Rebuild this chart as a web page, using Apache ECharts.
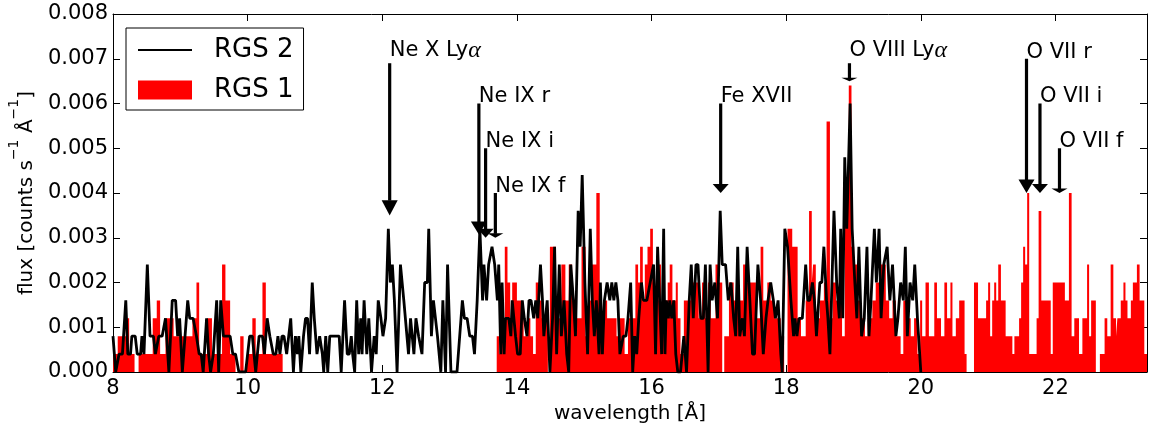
<!DOCTYPE html>
<html>
<head>
<meta charset="utf-8">
<title>RGS spectrum</title>
<script src="https://cdn.jsdelivr.net/npm/echarts@6/dist/echarts.min.js"></script>
<style>
  html, body { margin: 0; padding: 0; background: #fff; }
  #chart { width: 1151px; height: 426px; }
</style>
</head>
<body>
<div id="chart"></div>
<script>
// one count in a bin = 0.0004 counts s^-1 Å^-1
const FLUX_PER_COUNT = 0.0004;

// RGS 2 (black line): [wavelength Å, counts]
const rgs2A = [
  [8.00,2],[8.04,0],[8.09,1],[8.14,1],[8.19,4],[8.22,1],[8.26,1],[8.28,2],[8.33,2],[8.36,1],
  [8.41,1],[8.43,2],[8.46,1],[8.51,6],[8.55,2],[8.60,2],[8.63,1],[8.68,2],[8.73,2],[8.78,3],
  [8.83,0],[8.88,4],[8.93,4],[8.96,2],[8.99,3],[9.03,0],[9.11,4],[9.14,3],[9.19,3],[9.24,2],
  [9.28,1],[9.31,1],[9.34,0],[9.39,3],[9.42,1],[9.45,0],[9.49,1],[9.54,4],[9.57,0],[9.60,4],
  [9.64,2],[9.69,2],[9.74,2],[9.78,1],[9.82,1],[9.87,0],[9.92,0],[9.97,0],[10.03,2],[10.07,2],
  [10.12,0],[10.17,2],[10.22,2],[10.25,1],[10.29,3],[10.33,2],[10.38,1],[10.42,1],[10.45,2],[10.48,1]
];
const rgs2B = [
  [10.51,2],[10.54,2],[10.58,1],[10.61,2],[10.64,3],[10.68,0],[10.71,2],[10.74,1],[10.76,2],[10.79,0],
  [10.83,2],[10.86,3],[10.89,3],[10.92,1],[10.96,5],[10.99,3],[11.03,1],[11.07,2],[11.11,1],[11.13,0],
  [11.16,2],[11.19,0],[11.22,2],[11.28,2],[11.36,2],[11.39,0],[11.44,4],[11.48,1],[11.51,1],[11.54,2],
  [11.56,1],[11.59,0],[11.62,4],[11.65,1],[11.68,3],[11.70,1],[11.73,4],[11.77,1],[11.80,3],[11.84,0],
  [11.88,2],[11.91,1],[11.94,4],[11.98,3],[12.01,2],[12.05,3],[12.09,8],[12.12,5],[12.15,6],[12.18,4],
  [12.22,0],[12.27,6],[12.32,4],[12.39,1],[12.42,3],[12.47,1],[12.50,3],[12.54,2],[12.59,1],[12.63,5],
  [12.67,5],[12.69,8],[12.73,2],[12.76,4],[12.82,2],[12.87,0],[12.90,4],[12.94,0],[12.97,6],[13.02,0]
];
const rgs2C = [
  [13.05,0],[13.11,0],[13.19,4],[13.22,3],[13.26,3],[13.30,2],[13.34,2],[13.37,1],[13.41,4],[13.45,8],
  [13.49,4],[13.51,6],[13.55,4],[13.58,6],[13.63,7],[13.67,6],[13.71,4],[13.73,6],[13.76,1],[13.78,5],
  [13.81,1],[13.83,3],[13.88,3],[13.91,2],[13.93,4],[13.98,2],[14.01,1],[14.05,1],[14.08,4],[14.11,3],
  [14.15,2],[14.18,4],[14.21,4],[14.25,3],[14.28,4],[14.31,3],[14.35,6],[14.38,4],[14.40,2],[14.45,4],
  [14.49,0],[14.53,3],[14.56,7],[14.59,1],[14.63,6],[14.66,2],[14.70,4],[14.74,1],[14.77,0],[14.80,6],
  [14.84,4],[14.87,2],[14.91,9],[14.94,7],[14.97,11],[15.01,5],[15.05,1],[15.09,8],[15.12,4],[15.15,2],
  [15.18,4],[15.22,1],[15.24,5],[15.27,1],[15.30,4],[15.34,5],[15.38,4],[15.41,5],[15.44,4],[15.47,5],
  [15.50,4],[15.53,1]
];
const rgs2D = [
  [15.58,2],[15.62,2],[15.65,3],[15.69,5],[15.72,0],[15.75,2],[15.78,1],[15.81,3],[15.85,5],[15.88,4],
  [15.93,4],[15.98,5],[16.03,6],[16.06,1],[16.09,7],[16.13,3],[16.15,1],[16.18,8],[16.20,1],[16.22,4],
  [16.25,3],[16.27,4],[16.30,3],[16.33,4],[16.36,1],[16.39,0],[16.43,0],[16.48,2],[16.52,0],[16.56,4],
  [16.59,6],[16.62,3],[16.66,6],[16.69,6],[16.73,3],[16.77,3],[16.80,6],[16.84,0],[16.87,6],[16.90,4],
  [16.94,5],[16.98,3],[17.02,9],[17.05,6],[17.10,6],[17.14,4],[17.18,5],[17.22,3],[17.25,2],[17.28,7],
  [17.31,2],[17.35,3],[17.38,2],[17.42,7],[17.46,4],[17.50,1],[17.53,1],[17.58,6],[17.62,4],[17.66,1],
  [17.70,3],[17.73,4],[17.77,5],[17.81,4],[17.84,3],[17.88,4],[17.92,1],[17.94,0],[17.98,8],[18.02,7]
];
const rgs2E = [
  [18.07,4],[18.11,2],[18.13,3],[18.16,2],[18.19,3],[18.24,3],[18.29,6],[18.32,4],[18.35,4],[18.39,5],
  [18.42,4],[18.45,2],[18.50,5],[18.53,5],[18.56,7],[18.60,4],[18.62,3],[18.65,1],[18.71,9],[18.75,5],
  [18.79,3],[18.81,8],[18.84,3],[18.87,12],[18.90,8],[18.92,8],[18.95,15],[18.98,8],[19.02,5],[19.05,3],
  [19.08,7],[19.12,2],[19.16,3],[19.20,7],[19.23,2],[19.26,4],[19.31,8],[19.34,5],[19.38,8],[19.41,3],
  [19.45,6],[19.50,7],[19.54,4],[19.58,6],[19.63,2],[19.66,3],[19.70,5],[19.74,4],[19.77,7],[19.80,2],
  [19.84,5],[19.88,4],[19.91,6],[19.95,3],[20.00,0]
];

// RGS 1 (red histogram): [bin start Å, counts], level held until next start
const rgs1A = [
  [8.00,1],[8.07,2],[8.19,3],[8.24,1],[8.32,0],[8.38,1],[8.59,3],[8.65,4],[8.70,1],[8.78,3],
  [8.90,2],[9.18,3],[9.24,5],[9.28,1],[9.40,3],[9.47,1],[9.62,6],[9.67,4],[9.74,1],[9.82,0],
  [9.89,2],[9.94,0],[9.99,1],[10.07,3],[10.12,1],[10.22,5],[10.27,1],[10.52,0]
];
const rgs1B = [
  [13.70,2],[13.74,1],[13.78,3],[13.82,7],[13.86,5],[13.90,3],[13.93,5],[14.00,4],[14.06,3],[14.10,2],
  [14.16,3],[14.20,2],[14.24,1],[14.28,5],[14.33,4],[14.37,3],[14.46,0],[14.49,7],[14.58,4],[14.62,3],
  [14.66,6],[14.72,4],[14.77,6],[14.82,4],[14.88,3],[14.96,7],[15.02,2],[15.06,4],[15.10,6],[15.18,10],
  [15.23,3],[15.28,4],[15.34,3],[15.48,2],[15.52,3],[15.60,1],[15.65,3],[15.76,6],[15.80,5],[15.83,7],
  [15.87,4],[15.90,6],[15.94,7],[15.98,8]
];
const rgs1C = [
  [16.02,5],[16.05,4],[16.10,6],[16.14,3],[16.19,4],[16.24,5],[16.27,6],[16.31,4],[16.36,5],[16.39,3],
  [16.43,1],[16.48,4],[16.58,5],[16.70,3],[16.75,5],[16.80,3],[16.84,5],[16.88,3],[16.95,6],[17.00,5],
  [17.05,0],[17.08,2],[17.15,5],[17.22,4],[17.36,6],[17.41,5],[17.55,3],[17.62,7],[17.66,4],[17.72,5],
  [17.77,4],[17.82,3],[17.92,2],[17.97,0]
];
const rgs1D = [
  [18.02,8],[18.09,7],[18.17,3],[18.22,2],[18.29,4],[18.34,9],[18.38,5],[18.40,6],[18.44,3],[18.50,4],
  [18.56,5],[18.60,14],[18.65,3],[18.69,5],[18.74,4],[18.83,2],[18.87,10],[18.93,16],[18.97,7],[19.01,6],
  [19.06,4],[19.11,3],[19.17,2],[19.21,3],[19.28,4],[19.33,5],[19.40,6],[19.48,4],[19.53,3],[19.58,4],
  [19.63,2],[19.70,1],[19.74,4],[19.80,3],[19.85,2],[19.90,3],[19.95,1]
];
const rgs1E = [
  [19.99,4],[20.02,2],[20.07,5],[20.12,2],[20.20,5],[20.24,3],[20.30,2],[20.35,5],[20.39,3],[20.44,5],
  [20.47,2],[20.52,3],[20.57,4],[20.65,1],[20.68,0],[20.79,5],[20.85,3],[20.97,4],[21.00,5],[21.03,2],
  [21.06,4],[21.09,5],[21.12,4],[21.15,6],[21.19,4],[21.26,2],[21.36,1],[21.39,2],[21.46,3],[21.49,5],
  [21.52,7],[21.55,6],[21.58,10],[21.61,1],[21.72,3],[21.75,9],[21.79,4],[21.93,1],[21.96,5],[22.14,4],
  [22.20,10],[22.24,2],[22.28,3],[22.35,1],[22.40,3],[22.47,6],[22.50,2],[22.53,4],[22.60,0],[22.66,1],
  [22.73,3],[22.77,2],[22.82,6],[22.86,3],[22.90,2],[22.92,3],[22.97,4],[23.01,5],[23.04,4],[23.07,3],
  [23.12,4],[23.15,5],[23.21,6],[23.25,4],[23.32,1],[23.36,3],[23.45,0]
];

// line identifications
const lineNames = ["Ne X Lyα", "Ne IX r", "Ne IX i", "Ne IX f", "Fe XVII", "O VIII Lyα", "O VII r", "O VII i", "O VII f"];
const lineWave  = [12.11, 13.435, 13.535, 13.68, 17.027, 18.94, 21.57, 21.77, 22.06];
const labelFlux = [0.007, 0.006, 0.005, 0.004, 0.006, 0.007, 0.007, 0.006, 0.005];
const tailFlux  = [0.0069, 0.006, 0.005, 0.004, 0.006, 0.0069, 0.007, 0.006, 0.005];
const tipFlux   = [0.0035, 0.00307, 0.003, 0.003, 0.004, 0.0065, 0.004, 0.004, 0.004];

const xTicks = { min: 8, max: 23.36, interval: 2 };
const yTicks = { min: 0, max: 0.008, interval: 0.001 };

const FONT = "DejaVu Sans";
const toFlux = (p) => [p[0], p[1] * FLUX_PER_COUNT];

const rgs2Data = [].concat(rgs2A, rgs2B, rgs2C, rgs2D, rgs2E).map(toFlux);
const rgs1Data = [].concat(rgs1A, rgs1B, rgs1C, rgs1D, rgs1E).map(toFlux);

const chart = echarts.init(document.getElementById("chart"), null, { renderer: "canvas" });

const frameAxis = {
  axisLine: { show: true, onZero: false, lineStyle: { color: "#000", width: 1 } },
  axisTick: { show: true, inside: true, length: 7, lineStyle: { color: "#000", width: 1 } },
  splitLine: { show: false },
};

function drawArrow(params, api) {
  const i = params.dataIndex;
  const tip = api.coord([lineWave[i], tipFlux[i]]);
  const tail = api.coord([lineWave[i], tailFlux[i]]);
  const lab = api.coord([lineWave[i], labelFlux[i]]);
  const len = tip[1] - tail[1];
  const headLen = Math.max(3.5, 0.1 * len);
  const x = tip[0];
  return {
    type: "group",
    children: [
      {
        type: "rect",
        shape: { x: x - 1.6, y: tail[1], width: 3.2, height: len - headLen + 0.5 },
        style: { fill: "#000" },
      },
      {
        type: "polygon",
        shape: { points: [[x - 8, tip[1] - headLen], [x + 8, tip[1] - headLen], [x, tip[1]]] },
        style: { fill: "#000" },
      },
      {
        type: "text",
        x: x,
        y: lab[1] + 4,
        style: {
          text: lineNames[i].replace("α", "{a|α}"),
          fontFamily: FONT,
          fontSize: 21,
          fill: "#000",
          align: "left",
          verticalAlign: "bottom",
          rich: { a: { fontFamily: "Liberation Serif", fontStyle: "italic", fontSize: 24, fill: "#000" } },
        },
      },
    ],
  };
}

chart.setOption({
  animation: false,
  backgroundColor: "#fff",
  grid: { left: 113, right: 4, top: 14, bottom: 54, containLabel: false, outerBoundsMode: "none" },
  legend: {
    orient: "vertical",
    left: 126,
    top: 28,
    data: [
      { name: "RGS 2", itemStyle: { opacity: 0 } },
      { name: "RGS 1", icon: "rect" },
    ],
    itemWidth: 54,
    itemHeight: 19,
    itemGap: 10,
    padding: [7, 10, 5, 11],
    borderColor: "#000",
    borderWidth: 1,
    backgroundColor: "#fff",
    selectedMode: false,
    textStyle: { fontFamily: FONT, fontSize: 26, color: "#000", lineHeight: 30, padding: [0, 0, 0, 17] },
  },
  xAxis: [
    {
      type: "value",
      position: "bottom",
      ...xTicks,
      ...frameAxis,
      axisLabel: { fontFamily: FONT, fontSize: 21, color: "#000", margin: 6, showMaxLabel: false },
      name: "wavelength [Å]",
      nameLocation: "middle",
      nameGap: 26,
      nameTextStyle: { fontFamily: FONT, fontSize: 20, color: "#000" },
    },
    { type: "value", position: "top", ...xTicks, ...frameAxis, axisLabel: { show: false } },
  ],
  yAxis: [
    {
      type: "value",
      position: "left",
      ...yTicks,
      ...frameAxis,
      axisLabel: { fontFamily: FONT, fontSize: 21, color: "#000", margin: 5, formatter: (v) => v.toFixed(3) },
      name: "{b|flux [counts s}{s|−1}{b| Å}{s|−1}{b|]}",
      nameLocation: "middle",
      nameRotate: 90,
      nameGap: 70,
      nameTextStyle: {
        fontFamily: FONT,
        fontSize: 20,
        color: "#000",
        rich: {
          b: { fontFamily: FONT, fontSize: 20, lineHeight: 30, verticalAlign: "bottom", color: "#000" },
          s: { fontFamily: FONT, fontSize: 14, lineHeight: 14, padding: [0, 0, 16, 0], verticalAlign: "bottom", color: "#000" },
        },
      },
    },
    { type: "value", position: "right", ...yTicks, ...frameAxis, axisLabel: { show: false } },
  ],
  series: [
    {
      name: "RGS 1",
      type: "line",
      step: "end",
      data: rgs1Data,
      symbol: "none",
      color: "#ff0000",
      lineStyle: { width: 0 },
      areaStyle: { color: "#ff0000", opacity: 1 },
      z: 1,
    },
    {
      name: "RGS 2",
      type: "line",
      data: rgs2Data,
      symbol: "none",
      color: "#000",
      lineStyle: { color: "#000", width: 2.8 },
      z: 2,
    },
    {
      type: "custom",
      renderItem: drawArrow,
      data: lineWave.map((w, i) => [w, tipFlux[i]]),
      clip: false,
      silent: true,
      z: 5,
    },
  ],
});
</script>
</body>
</html>
